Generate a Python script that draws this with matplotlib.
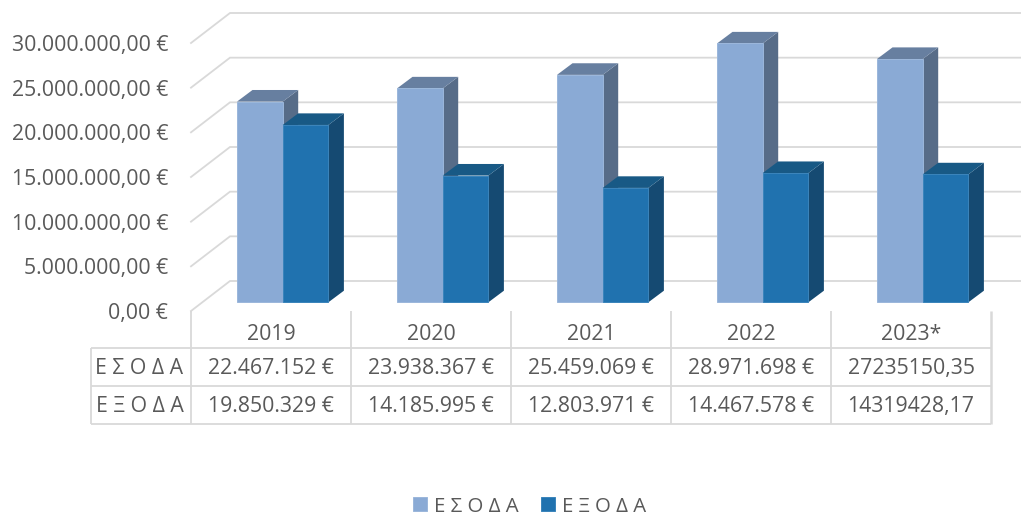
import matplotlib
matplotlib.use('Agg')
import matplotlib.pyplot as plt
import numpy as np

years = ['2019', '2020', '2021', '2022', '2023*']
income = [22467152, 23938367, 25459069, 28971698, 27235150.35]
expenses = [19850329, 14185995, 12803971, 14467578, 14319428.17]
income_labels = ['22.467.152 €', '23.938.367 €', '25.459.069 €', '28.971.698 €', '27235150,35']
expense_labels = ['19.850.329 €', '14.185.995 €', '12.803.971 €', '14.467.578 €', '14319428,17']
ticks = [0, 5000000, 10000000, 15000000, 20000000, 25000000, 30000000]
tick_labels = ['0,00 €', '5.000.000,00 €', '10.000.000,00 €', '15.000.000,00 €',
               '20.000.000,00 €', '25.000.000,00 €', '30.000.000,00 €']
name_in = 'Ε Σ Ο Δ Α'
name_out = 'Ε Ξ Ο Δ Α'

W, H = 1021, 517
plt.rcParams['font.family'] = ['Open Sans', 'DejaVu Sans']
fs = 15.3
grey = '#595959'
line = '#D9D9D9'

fig = plt.figure(figsize=(W / 100, H / 100), dpi=100)

# pixel overlay for the data table under the chart
px = fig.add_axes([0, 0, 1, 1])
px.set_xlim(0, W)
px.set_ylim(H, 0)
px.axis('off')

# plot area: px 191..991 across, 43..311 down
ax = fig.add_axes([191 / W, 1 - 311 / H, 800 / W, 268 / H])
ax.patch.set_visible(False)
ax.set_xlim(0, 5)
ax.set_ylim(0, 30000000)
for s in ax.spines.values():
    s.set_visible(False)

per_x = 5 / 800
per_y = 30000000 / 268

# walls
wall_dx, wall_dy = 39 * per_x, 30 * per_y
right_end = (W - 191) * per_x
for t in ticks:
    ax.plot([0, wall_dx, right_end], [t, t + wall_dy, t + wall_dy], color=line,
            lw=1.3, clip_on=False, zorder=1, solid_joinstyle='miter')

# bars
bar_w = 45.7 * per_x
bar_dx, bar_dy = 15.5 * per_x, 11.6 * per_y
base = 8.7 * per_y
start = 46 * per_x
xs = np.arange(5) + start


def draw_series(x0, vals, front, top, side, edge, label, z):
    bars = ax.bar(x0, vals, bar_w, bottom=base, align='edge', color=front, edgecolor=edge,
                  linewidth=0.7, clip_on=False, zorder=z + 1, label=label)
    for x, v in zip(x0, vals):
        y1 = base + v
        ax.fill([x + bar_w, x + bar_w + bar_dx, x + bar_w + bar_dx, x + bar_w],
                [base, base + bar_dy, y1 + bar_dy, y1], color=side, lw=0, clip_on=False, zorder=z)
        ax.fill([x, x + bar_dx, x + bar_w + bar_dx, x + bar_w],
                [y1, y1 + bar_dy, y1 + bar_dy, y1], color=top, lw=0, clip_on=False, zorder=z)
    return bars


b1 = draw_series(xs, income, '#8AAAD5', '#677FA0', '#576C88', '#9BB7DB', name_in, 2)
b2 = draw_series(xs + bar_w, expenses, '#2072AF', '#185985', '#154A72', '#3A84BB', name_out, 4)

ax.set_yticks(ticks)
ax.set_yticklabels(tick_labels, fontsize=fs, color=grey)
ax.set_xticks(np.arange(5) + 0.5)
ax.set_xticklabels(years, fontsize=fs, color=grey)
ax.tick_params(axis='y', length=0, pad=16.5)
ax.tick_params(axis='x', length=0, pad=9.5)

# table
col_x = [191 + 160 * i for i in range(6)]
row_y = [348, 386, 424]
for x in col_x:
    px.plot([x, x], [311, 424], color=line, lw=1.8 if x == col_x[-1] else 1.3, solid_capstyle='butt')
px.plot([90.5, 90.5], [348, 424], color=line, lw=1.3, solid_capstyle='butt')
for y in row_y:
    px.plot([90.5, 991], [y, y], color=line, lw=1.3, solid_capstyle='butt')

for name, labels, y in [(name_in, income_labels, 374.3), (name_out, expense_labels, 412.3)]:
    px.text(139.5, y, name, ha='center', va='baseline', fontsize=fs, color=grey)
    for i, txt in enumerate(labels):
        px.text(col_x[i] + 80, y, txt, ha='center', va='baseline', fontsize=fs, color=grey)

# legend, sits on the bottom edge of the figure
ax.legend(handles=[b1, b2], labels=[name_in, name_out], loc='lower center', ncol=2,
          bbox_to_anchor=(529.5 / W, 0.5 / H), bbox_transform=fig.transFigure,
          frameon=False, fontsize=14.7, labelcolor=grey, handlelength=0.69, handleheight=0.69,
          handletextpad=0.34, columnspacing=1.1, borderpad=0, borderaxespad=0)

fig.savefig('out.png', dpi=100, facecolor='white')
